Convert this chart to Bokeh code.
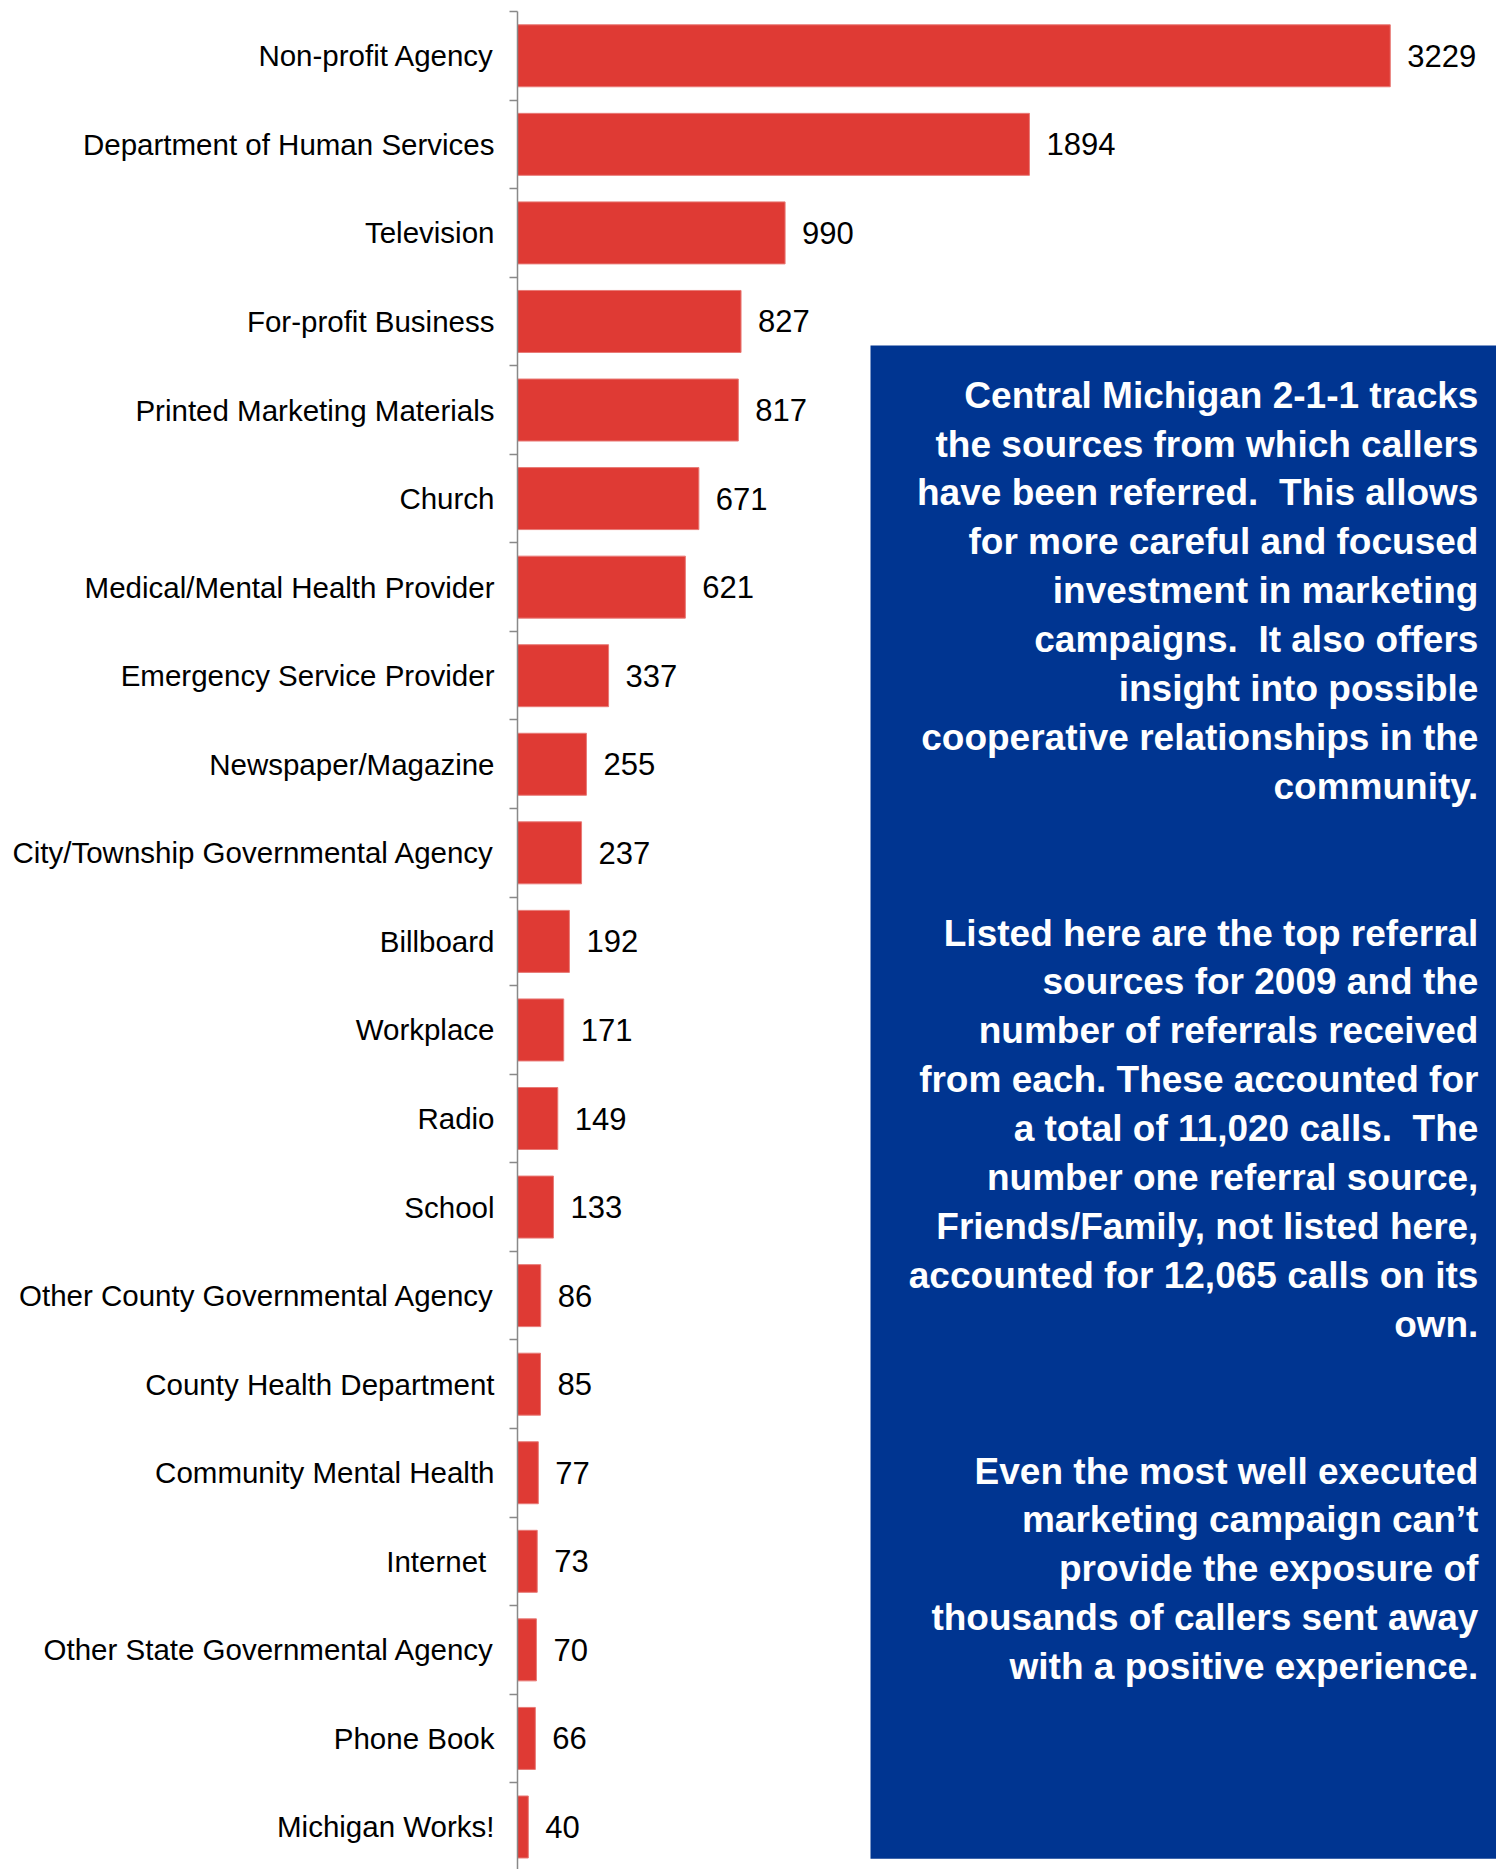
from bokeh.plotting import figure
from bokeh.models import ColumnDataSource, Range1d, FixedTicker
from bokeh.core.properties import value
from bokeh.embed import file_html
from bokeh.resources import INLINE

categories = [
    "Non-profit Agency",
    "Department of Human Services",
    "Television",
    "For-profit Business",
    "Printed Marketing Materials",
    "Church",
    "Medical/Mental Health Provider",
    "Emergency Service Provider",
    "Newspaper/Magazine",
    "City/Township Governmental Agency",
    "Billboard",
    "Workplace",
    "Radio",
    "School",
    "Other County Governmental Agency",
    "County Health Department",
    "Community Mental Health",
    "Internet ",
    "Other State Governmental Agency",
    "Phone Book",
    "Michigan Works!",
]
counts = [3229, 1894, 990, 827, 817, 671, 621, 337, 255, 237, 192, 171, 149, 133,
          86, 85, 77, 73, 70, 66, 40]

NB = "\u00a0"
note_lines = [
    "Central Michigan 2-1-1 tracks",
    "the sources from which callers",
    "have been referred. " + NB + "This allows",
    "for more careful and focused",
    "investment in marketing",
    "campaigns. " + NB + "It also offers",
    "insight into possible",
    "cooperative relationships in the",
    "community.",
    "",
    "",
    "Listed here are the top referral",
    "sources for 2009 and the",
    "number of referrals received",
    "from each. These accounted for",
    "a total of 11,020 calls. " + NB + "The",
    "number one referral source,",
    "Friends/Family, not listed here,",
    "accounted for 12,065 calls on its",
    "own.",
    "",
    "",
    "Even the most well executed",
    "marketing campaign can\u2019t",
    "provide the exposure of",
    "thousands of callers sent away",
    "with a positive experience.",
]

n = len(categories)
ypos = list(range(n))

W, H = 1496, 1869
X_END = 3622
Y_BOTTOM = 20.48
p = figure(width=W, height=H, output_backend="svg", toolbar_location=None,
           x_range=Range1d(0, X_END), y_range=Range1d(Y_BOTTOM, -0.5),
           min_border_left=517, min_border_right=0, min_border_top=11,
           min_border_bottom=0)
p.outline_line_color = None
p.background_fill_color = "white"
p.xaxis.visible = False
p.xgrid.visible = False
p.ygrid.visible = False

src = ColumnDataSource(dict(y=ypos, v=counts, lab=[str(c) for c in counts]))
p.hbar(y="y", left=0, right="v", height=0.7, source=src,
       fill_color="#DF3A34", line_color="#E87A76", line_width=1)
p.text(x="v", y="y", text="lab", source=src, x_offset=17,
       text_align="left", text_baseline="middle",
       text_font=value("Liberation Sans"), text_font_size="31px",
       text_color="black")

ya = p.yaxis[0]
ya.ticker = FixedTicker(ticks=ypos, minor_ticks=[i - 0.5 for i in range(n + 1)])
ya.major_label_overrides = {i: c for i, c in enumerate(categories)}
ya.axis_line_color = "#898989"
ya.axis_line_width = 1.5
ya.major_tick_line_color = None
ya.major_tick_out = 0
ya.major_tick_in = 0
ya.minor_tick_line_color = "#898989"
ya.minor_tick_line_width = 1.5
ya.minor_tick_out = 8
ya.minor_tick_in = 0
ya.major_label_standoff = 15
ya.major_label_text_font = "Liberation Sans"
ya.major_label_text_font_size = "29.5px"
ya.major_label_text_color = "black"

# text panel
p.quad(left=[1306], right=[X_END + 50], top=[3.272], bottom=[20.36],
       fill_color="#003591", line_color=None)
ly = [3.832 + i * 0.5522 for i in range(len(note_lines))]
keep = [i for i, t in enumerate(note_lines) if t]
p.text(x=[3555] * len(keep), y=[ly[i] for i in keep], text=[note_lines[i] for i in keep],
       text_align="right", text_baseline="middle",
       text_font=value("Liberation Sans"), text_font_style="bold",
       text_font_size="37px", text_color="white")

open("out.html", "w").write(file_html(p, INLINE))
